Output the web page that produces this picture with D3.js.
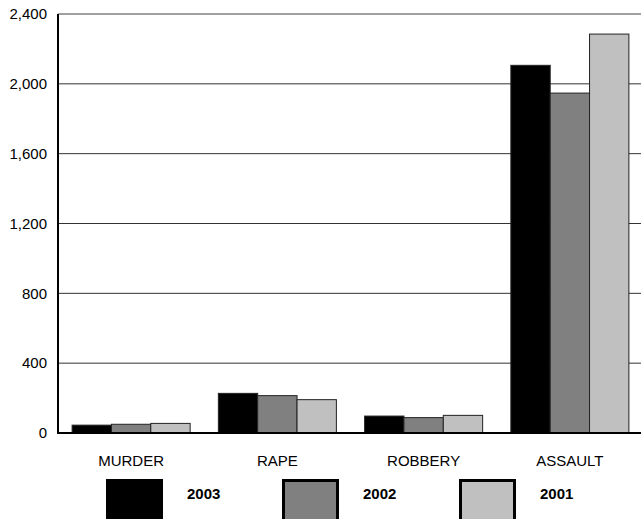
<!DOCTYPE html>
<html>
<head>
<meta charset="utf-8">
<script src="https://cdn.jsdelivr.net/npm/d3@7"></script>
<style>
  html, body { margin: 0; padding: 0; background: #fff; }
  svg { display: block; }
  text { font-family: Arial, "Liberation Sans", sans-serif; }
</style>
</head>
<body>
<svg id="chart" width="641" height="519"></svg>
<script>
const categories = ["MURDER", "RAPE", "ROBBERY", "ASSAULT"];
const seriesNames = ["2003", "2002", "2001"];
const values2003 = [45, 227, 97, 2106];
const values2002 = [50, 214, 88, 1947];
const values2001 = [55, 191, 101, 2285];
const seriesColors = ["#000000", "#808080", "#c0c0c0"];
const yTicks = [0, 400, 800, 1200, 1600, 2000, 2400];

const seriesValues = [values2003, values2002, values2001];

const svg = d3.select("#chart");
const margin = { left: 58, right: -2, top: 14, bottom: 86 };
const W = 641, H = 519;

const x0 = d3.scaleBand().domain(categories).range([margin.left, W - margin.right]).paddingInner(0.193).paddingOuter(0.0965);
const x1 = d3.scaleBand().domain(seriesNames).range([0, x0.bandwidth()]).padding(0);
const y = d3.scaleLinear().domain([0, 2400]).range([H - margin.bottom, margin.top]);

// gridlines
svg.append("g").selectAll("line").data(yTicks.filter(t => t > 0)).join("line")
  .attr("x1", margin.left).attr("x2", W)
  .attr("y1", d => y(d)).attr("y2", d => y(d))
  .attr("stroke", d => d === 2400 ? "#808080" : "#333")
  .attr("stroke-width", d => d === 2400 ? 1.5 : 1);

// y axis labels via axis
const yAxis = d3.axisLeft(y).tickValues(yTicks).tickSize(0).tickPadding(11).tickFormat(d3.format(","));
const gy = svg.append("g").attr("transform", `translate(${margin.left},0)`).call(yAxis);
gy.select(".domain").remove();
gy.selectAll("text").attr("font-size", 15).attr("fill", "#000").attr("font-family", "Arial, 'Liberation Sans', sans-serif");

// bars
const rows = categories.map((c, i) => ({ cat: c, vals: seriesNames.map((s, j) => ({ s, v: seriesValues[j][i], color: seriesColors[j] })) }));
const g = svg.append("g").selectAll("g").data(rows).join("g")
  .attr("transform", d => `translate(${x0(d.cat)},0)`);
g.selectAll("rect").data(d => d.vals).join("rect")
  .attr("x", d => x1(d.s))
  .attr("width", x1.bandwidth())
  .attr("y", d => y(d.v))
  .attr("height", d => y(0) - y(d.v))
  .attr("fill", d => d.color)
  .attr("stroke", "#222")
  .attr("stroke-width", 1);

// axis lines
svg.append("line").attr("x1", margin.left).attr("x2", margin.left)
  .attr("y1", y(2400)).attr("y2", y(0) + 1).attr("stroke", "#000").attr("stroke-width", 2);
svg.append("line").attr("x1", margin.left - 1).attr("x2", W)
  .attr("y1", y(0)).attr("y2", y(0)).attr("stroke", "#000").attr("stroke-width", 2);

// category labels
const xAxis = d3.axisBottom(x0).tickSize(0).tickPadding(22);
const gx = svg.append("g").attr("transform", `translate(0,${y(0)})`).call(xAxis);
gx.select(".domain").remove();
gx.selectAll("text").attr("font-size", 15).attr("fill", "#000").attr("font-family", "Arial, 'Liberation Sans', sans-serif");

// legend
const legendX = [106, 282, 459];
const lg = svg.append("g").selectAll("g").data(seriesNames).join("g")
  .attr("transform", (d, i) => `translate(${legendX[i]},479)`);
lg.append("rect")
  .attr("x", 1.5).attr("y", 1.5).attr("width", 54).attr("height", 44)
  .attr("fill", (d, i) => seriesColors[i])
  .attr("stroke", "#000").attr("stroke-width", 3);
lg.append("text")
  .attr("x", 81).attr("y", 15).attr("dy", "0.35em")
  .attr("font-size", 15).attr("font-weight", "bold").attr("fill", "#000")
  .text(d => d);
</script>
</body>
</html>
